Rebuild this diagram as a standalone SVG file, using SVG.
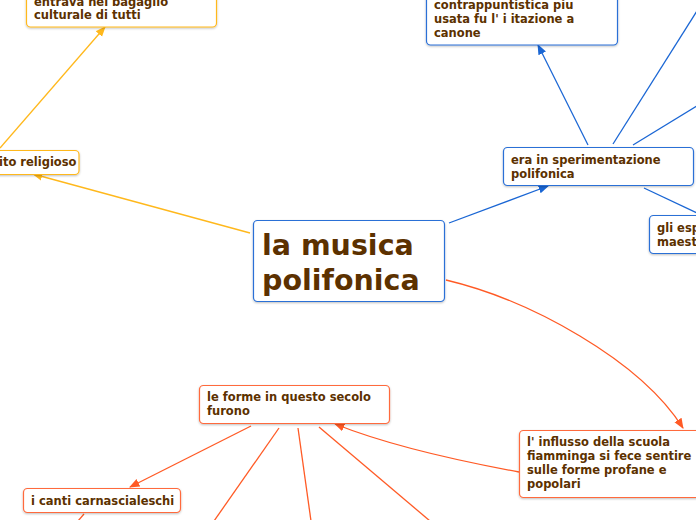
<svg xmlns="http://www.w3.org/2000/svg" width="696" height="520" viewBox="0 0 696 520">
<style>
text{font-family:"DejaVu Sans",sans-serif;font-weight:bold;fill:#5c3100;font-size:11.5px}
.big{font-size:28.5px}
.n rect{fill:#fff;stroke-width:1.2}
.b rect{stroke:#2a6fd6}
.y rect{stroke:#ffb81c}
.r rect{stroke:#ff6a3d}
.cb{stroke:#1a66d4;fill:none;stroke-width:1.3}
.cy{stroke:#ffb81c;fill:none;stroke-width:1.3}
.cr{stroke:#ff5a25;fill:none;stroke-width:1.3}
</style>
<defs>
<filter id="sh" x="-10%" y="-10%" width="120%" height="130%"><feDropShadow dx="0" dy="1" stdDeviation="0.8" flood-color="#000" flood-opacity="0.25"/></filter>
<marker id="ab" viewBox="0 0 10 10" refX="9" refY="5" markerWidth="8" markerHeight="8" orient="auto"><path d="M0,1 L10,5 L0,9 z" fill="#1a66d4"/></marker>
<marker id="ay" viewBox="0 0 10 10" refX="9" refY="5" markerWidth="8" markerHeight="8" orient="auto"><path d="M0,1 L10,5 L0,9 z" fill="#ffb81c"/></marker>
<marker id="ar" viewBox="0 0 10 10" refX="9" refY="5" markerWidth="8" markerHeight="8" orient="auto"><path d="M0,1 L10,5 L0,9 z" fill="#ff5a25"/></marker>
</defs>
<g id="connectors">
<path class="cy" d="M250,233 L33,174" marker-end="url(#ay)"/>
<path class="cy" d="M0,148 L105,27" marker-end="url(#ay)"/>
<path class="cb" d="M449,223 L548,186" marker-end="url(#ab)"/>
<path class="cb" d="M588,145 L538,45" marker-end="url(#ab)"/>
<path class="cb" d="M613,144 L697,11"/>
<path class="cb" d="M633,145 L697,106"/>
<path class="cb" d="M644,188 L697,213"/>
<path class="cr" d="M446,280 C530,300 640,360 683,428" marker-end="url(#ar)"/>
<path class="cr" d="M519,472 C470,463 390,446 335,424" marker-end="url(#ar)"/>
<path class="cr" d="M251,426 L130,487" marker-end="url(#ar)"/>
<path class="cr" d="M279,428 L214,521"/>
<path class="cr" d="M298,428 L311,521"/>
<path class="cr" d="M319,427 L430,521"/>
<path class="cr" d="M84,514 L78,521"/>
</g>
<g id="n-center" class="n b"><rect x="253.5" y="220.5" width="191" height="81" rx="4" filter="url(#sh)"/><text class="big" x="262" y="255">la musica</text><text class="big" x="262" y="290">polifonica</text></g>
<g id="n-bagaglio" class="n y"><rect x="26.5" y="-20" width="190" height="47" rx="4" filter="url(#sh)"/><text x="34" y="6">entrava nel bagaglio</text><text x="34" y="19">culturale di tutti</text></g>
<g id="n-religioso" class="n y"><rect x="-20" y="150.5" width="99" height="24" rx="4" filter="url(#sh)"/><text x="-1" y="166">ito religioso</text></g>
<g id="n-canone" class="n b"><rect x="426.5" y="-20" width="191" height="65" rx="4" filter="url(#sh)"/><text x="434" y="9">contrappuntistica piu</text><text x="434" y="23">usata fu l' i itazione a</text><text x="434" y="37">canone</text></g>
<g id="n-era" class="n b"><rect x="503.5" y="147.5" width="190" height="38" rx="4" filter="url(#sh)"/><text x="511" y="164">era in sperimentazione</text><text x="511" y="178">polifonica</text></g>
<g id="n-esp" class="n b"><rect x="649.5" y="215.5" width="70" height="38" rx="4" filter="url(#sh)"/><text x="657" y="232">gli esp</text><text x="657" y="246">maest</text></g>
<g id="n-influsso" class="n r"><rect x="519.5" y="430.5" width="190" height="67" rx="4" filter="url(#sh)"/><text x="527" y="446">l' influsso della scuola</text><text x="527" y="460">fiamminga si fece sentire</text><text x="527" y="474">sulle forme profane e</text><text x="527" y="488">popolari</text></g>
<g id="n-forme" class="n r"><rect x="199.5" y="385.5" width="190" height="38" rx="4" filter="url(#sh)"/><text x="207" y="401">le forme in questo secolo</text><text x="207" y="415">furono</text></g>
<g id="n-canti" class="n r"><rect x="23.5" y="488.5" width="157" height="24" rx="4" filter="url(#sh)"/><text x="31" y="505">i canti carnascialeschi</text></g>
</svg>
